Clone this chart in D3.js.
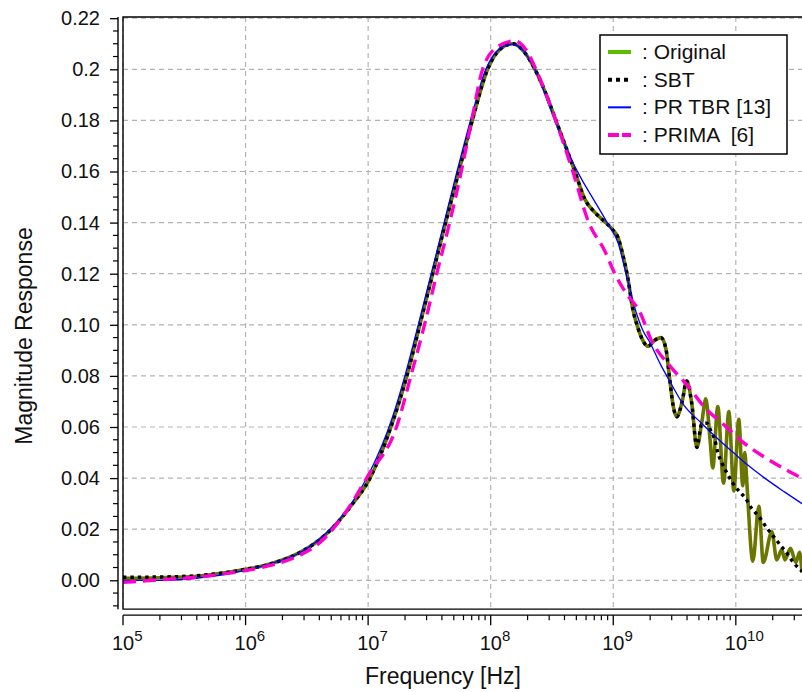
<!DOCTYPE html>
<html>
<head>
<meta charset="utf-8">
<script src="https://cdn.jsdelivr.net/npm/d3@7"></script>
<style>
  body { margin: 0; background: #fff; }
  svg text { font-family: "Liberation Sans", Arial, sans-serif; fill: #111; }
</style>
</head>
<body>
<svg id="chart" width="802" height="692"></svg>
<script>
// frequency as log10(Hz)
const origExp = [5.00, 5.30, 5.60, 5.80, 6.00, 6.20, 6.44, 6.58, 6.72, 6.85, 7.015, 7.10, 7.20, 7.316, 7.422, 7.527, 7.632, 7.74, 7.85, 7.975, 8.08, 8.18, 8.27, 8.361, 8.45, 8.532, 8.687, 8.77, 8.85, 8.915, 8.99, 9.04, 9.08, 9.12, 9.16, 9.20, 9.24, 9.282, 9.34, 9.39, 9.43, 9.46, 9.49, 9.519, 9.56, 9.60, 9.641, 9.682, 9.723, 9.755, 9.79, 9.812, 9.853, 9.90, 9.943, 9.984, 10.024, 10.057, 10.073, 10.090, 10.139, 10.188, 10.224, 10.294, 10.334, 10.375, 10.40, 10.446, 10.49, 10.52, 10.54];
const origVal = [0.0008, 0.0010, 0.0016, 0.0027, 0.0043, 0.0064, 0.0108, 0.0150, 0.0210, 0.0285, 0.0400, 0.0490, 0.0620, 0.0800, 0.1000, 0.1200, 0.1400, 0.1600, 0.1800, 0.2000, 0.2080, 0.2100, 0.2070, 0.2000, 0.1905, 0.1800, 0.1600, 0.1490, 0.1440, 0.1410, 0.1375, 0.1340, 0.1270, 0.1180, 0.1060, 0.0990, 0.0940, 0.0916, 0.0940, 0.0950, 0.0905, 0.0790, 0.0680, 0.0640, 0.0695, 0.0780, 0.0690, 0.0520, 0.0620, 0.0710, 0.0550, 0.0440, 0.0680, 0.0380, 0.0660, 0.0350, 0.0630, 0.0370, 0.0500, 0.0380, 0.0075, 0.0290, 0.0070, 0.0190, 0.0080, 0.0120, 0.0080, 0.0125, 0.0070, 0.0110, 0.0030];

const sbtExp = [5.00, 5.30, 5.60, 5.80, 6.00, 6.20, 6.44, 6.58, 6.72, 6.85, 7.015, 7.10, 7.20, 7.316, 7.422, 7.527, 7.632, 7.74, 7.85, 7.975, 8.08, 8.18, 8.27, 8.361, 8.45, 8.532, 8.687, 8.77, 8.85, 8.915, 8.99, 9.04, 9.08, 9.12, 9.16, 9.20, 9.24, 9.282, 9.34, 9.39, 9.43, 9.46, 9.49, 9.519, 9.56, 9.60, 9.641, 9.682, 9.72, 9.765, 9.80, 9.829, 9.853, 9.886, 9.927, 9.976, 10.024, 10.081, 10.131, 10.188, 10.245, 10.294, 10.351, 10.41, 10.465, 10.54];
const sbtVal = [0.0012, 0.0013, 0.0018, 0.0028, 0.0043, 0.0064, 0.0108, 0.0150, 0.0210, 0.0285, 0.0400, 0.0490, 0.0620, 0.0800, 0.1000, 0.1200, 0.1400, 0.1600, 0.1800, 0.2000, 0.2080, 0.2100, 0.2070, 0.2000, 0.1905, 0.1800, 0.1600, 0.1490, 0.1440, 0.1410, 0.1375, 0.1340, 0.1270, 0.1180, 0.1060, 0.0990, 0.0940, 0.0916, 0.0940, 0.0950, 0.0905, 0.0790, 0.0680, 0.0640, 0.0695, 0.0780, 0.0690, 0.0520, 0.0610, 0.0615, 0.0580, 0.0550, 0.0500, 0.0460, 0.0420, 0.0380, 0.0350, 0.0320, 0.0280, 0.0250, 0.0210, 0.0180, 0.0145, 0.0110, 0.0073, 0.0035];

const tbrExp = [5.00, 5.30, 5.60, 5.80, 6.00, 6.20, 6.45, 6.60, 6.85, 7.00, 7.20, 7.30, 7.409, 7.515, 7.62, 7.725, 7.835, 7.96, 8.06, 8.18, 8.27, 8.36, 8.524, 8.646, 8.73, 8.84, 8.95, 9.04, 9.11, 9.18, 9.24, 9.30, 9.38, 9.46, 9.57, 9.72, 9.85, 9.98, 10.10, 10.25, 10.40, 10.54];
const tbrVal = [0.0000, 0.0000, 0.0008, 0.0020, 0.0040, 0.0064, 0.0110, 0.0160, 0.0290, 0.0410, 0.0640, 0.0800, 0.1000, 0.1200, 0.1400, 0.1600, 0.1800, 0.2000, 0.2075, 0.2098, 0.2070, 0.2000, 0.1800, 0.1660, 0.1580, 0.1490, 0.1400, 0.1320, 0.1190, 0.1060, 0.0980, 0.0930, 0.0850, 0.0780, 0.0690, 0.0615, 0.0555, 0.0500, 0.0450, 0.0395, 0.0345, 0.0300];

const primaExp = [5.00, 5.30, 5.60, 5.80, 6.00, 6.20, 6.45, 6.60, 6.85, 7.00, 7.232, 7.349, 7.46, 7.56, 7.665, 7.76, 7.845, 7.934, 8.06, 8.197, 8.29, 8.369, 8.53, 8.67, 8.80, 8.93, 9.013, 9.11, 9.217, 9.31, 9.46, 9.61, 9.74, 9.90, 10.06, 10.24, 10.42, 10.54];
const primaVal = [-0.0008, 0.0002, 0.0012, 0.0024, 0.0038, 0.0058, 0.0100, 0.0145, 0.0290, 0.0410, 0.0600, 0.0800, 0.1000, 0.1200, 0.1400, 0.1600, 0.1800, 0.2000, 0.2090, 0.2111, 0.2075, 0.2000, 0.1800, 0.1600, 0.1400, 0.1290, 0.1200, 0.1120, 0.1050, 0.0940, 0.0840, 0.0760, 0.0680, 0.0610, 0.0540, 0.0480, 0.0430, 0.0400];

const yTickValues = [0.00, 0.02, 0.04, 0.06, 0.08, 0.10, 0.12, 0.14, 0.16, 0.18, 0.20, 0.22];
const yTickLabels = ["0.00", "0.02", "0.04", "0.06", "0.08", "0.10", "0.12", "0.14", "0.16", "0.18", "0.2", "0.22"];
const xDecades = [5, 6, 7, 8, 9, 10];

const legendNames = [": Original", ": SBT", ": PR TBR [13]", ": PRIMA  [6]"];

const svg = d3.select('#chart');
const plotLeft = 123, plotRight = 802, plotTop = 17;

const x = d3.scaleLog().domain([1e5, Math.pow(10, 10.54)]).range([plotLeft, plotRight]);
const y = d3.scaleLinear().domain([0, 0.22]).range([580.3, 18.2]);
const plotBottom = y(-0.0113);
const axisY = plotBottom + 6;

// grid
const grid = svg.append('g')
    .attr('stroke', '#b4b4b4')
    .attr('stroke-width', 1.2)
    .attr('stroke-dasharray', '5,4');

grid.selectAll('line.gy')
    .data(yTickValues)
    .join('line')
    .attr('x1', plotLeft).attr('x2', plotRight)
    .attr('y1', d => y(d)).attr('y2', d => y(d));

grid.selectAll('line.gx')
    .data(xDecades)
    .join('line')
    .attr('x1', d => x(Math.pow(10, d))).attr('x2', d => x(Math.pow(10, d)))
    .attr('y1', plotTop).attr('y2', plotBottom);

// curves
svg.append('clipPath').attr('id', 'plotClip')
    .append('rect')
    .attr('x', plotLeft).attr('y', plotTop)
    .attr('width', plotRight - plotLeft).attr('height', plotBottom - plotTop);

const plot = svg.append('g').attr('clip-path', 'url(#plotClip)');

function drawCurve(exps, vals, color, width, dash) {
    const pts = exps.map((e, i) => [x(Math.pow(10, e)), y(vals[i])]);
    const line = d3.line().curve(d3.curveMonotoneX);
    plot.append('path')
        .attr('d', line(pts))
        .attr('fill', 'none')
        .attr('stroke', color)
        .attr('stroke-width', width)
        .attr('stroke-dasharray', dash)
        .attr('stroke-linejoin', 'round');
}

drawCurve(origExp, origVal, '#6b7600', 3.6, null);
drawCurve(sbtExp, sbtVal, '#000', 3.4, '3.4,4');
drawCurve(tbrExp, tbrVal, '#0000ff', 1.3, null);
drawCurve(primaExp, primaVal, '#ff00cc', 3.4, '13,7');

// frame
svg.append('path')
    .attr('d', `M${plotRight + 2},${plotTop}H${plotLeft}V${plotBottom}H${plotRight + 2}`)
    .attr('fill', 'none')
    .attr('stroke', '#000')
    .attr('stroke-width', 1.4);

// y axis (offset, Origin style)
const yAxisX = plotLeft - 5;
const yAxis = d3.axisLeft(y)
    .tickValues(yTickValues)
    .tickFormat((d, i) => yTickLabels[i])
    .tickSize(8)
    .tickPadding(10);

const gy = svg.append('g')
    .attr('transform', `translate(${yAxisX},0)`)
    .call(yAxis);
gy.select('.domain').attr('d', `M0,${plotTop}V${plotBottom}`).attr('stroke-width', 1.4);
gy.selectAll('.tick line').attr('stroke-width', 1.3);
gy.selectAll('.tick text')
    .style('font-size', '20px')
    .style('font-family', '"Liberation Sans", Arial, sans-serif')
    .attr('fill', '#111');

const yMinor = d3.range(-0.01, 0.2201, 0.005).filter(v => Math.abs(Math.round(v / 0.02) * 0.02 - v) > 1e-6);
svg.append('g').selectAll('line')
    .data(yMinor)
    .join('line')
    .attr('x1', yAxisX - 5).attr('x2', yAxisX)
    .attr('y1', d => y(d)).attr('y2', d => y(d))
    .attr('stroke', '#000').attr('stroke-width', 1.2);

// x axis (offset below the frame)
svg.append('line')
    .attr('x1', plotLeft).attr('x2', plotRight)
    .attr('y1', axisY).attr('y2', axisY)
    .attr('stroke', '#000').attr('stroke-width', 1.4);

const xMinor = [];
xDecades.forEach(d => {
    for (let k = 2; k <= 9; k++) {
        const f = k * Math.pow(10, d);
        if (x(f) <= plotRight) xMinor.push(f);
    }
});

svg.append('g').selectAll('line')
    .data(xMinor)
    .join('line')
    .attr('x1', d => x(d)).attr('x2', d => x(d))
    .attr('y1', axisY).attr('y2', axisY + 5)
    .attr('stroke', '#000').attr('stroke-width', 1.2);

svg.append('g').selectAll('line')
    .data(xDecades)
    .join('line')
    .attr('x1', d => x(Math.pow(10, d))).attr('x2', d => x(Math.pow(10, d)))
    .attr('y1', axisY).attr('y2', axisY + 10)
    .attr('stroke', '#000').attr('stroke-width', 1.3);

const xLabels = svg.append('g').selectAll('text')
    .data(xDecades)
    .join('text')
    .attr('x', d => x(Math.pow(10, d)) - 11)
    .attr('y', 650)
    .style('font-size', '20px');
xLabels.append('tspan').text('10');
xLabels.append('tspan')
    .attr('dy', -9)
    .style('font-size', '15px')
    .text(d => d);

// axis titles
svg.append('text')
    .attr('x', 365)
    .attr('y', 684)
    .style('font-size', '23px')
    .text('Frequency [Hz]');

svg.append('text')
    .attr('transform', `translate(32,${336}) rotate(-90)`)
    .attr('text-anchor', 'middle')
    .style('font-size', '23px')
    .text('Magnitude Response');

// legend
const legend = svg.append('g');
legend.append('rect')
    .attr('x', 600).attr('y', 35)
    .attr('width', 187).attr('height', 119)
    .attr('fill', '#fff')
    .attr('stroke', '#000')
    .attr('stroke-width', 1.5);

const legendColors = ['#5cbb00', '#000', '#0000ff', '#ff00cc'];
const legendWidths = [4, 4, 2, 4];
const legendDash = [null, '4,4', null, '11,3'];
const legendY = d3.scalePoint().domain(legendNames).range([52, 135]);

legend.selectAll('line')
    .data(legendNames)
    .join('line')
    .attr('x1', 608).attr('x2', 631)
    .attr('y1', d => legendY(d)).attr('y2', d => legendY(d))
    .attr('stroke', (d, i) => legendColors[i])
    .attr('stroke-width', (d, i) => legendWidths[i])
    .attr('stroke-dasharray', (d, i) => legendDash[i]);

legend.selectAll('text')
    .data(legendNames)
    .join('text')
    .attr('x', 642)
    .attr('y', d => legendY(d) + 7)
    .style('font-size', '21px')
    .style('white-space', 'pre')
    .text(d => d);
</script>
</body>
</html>
